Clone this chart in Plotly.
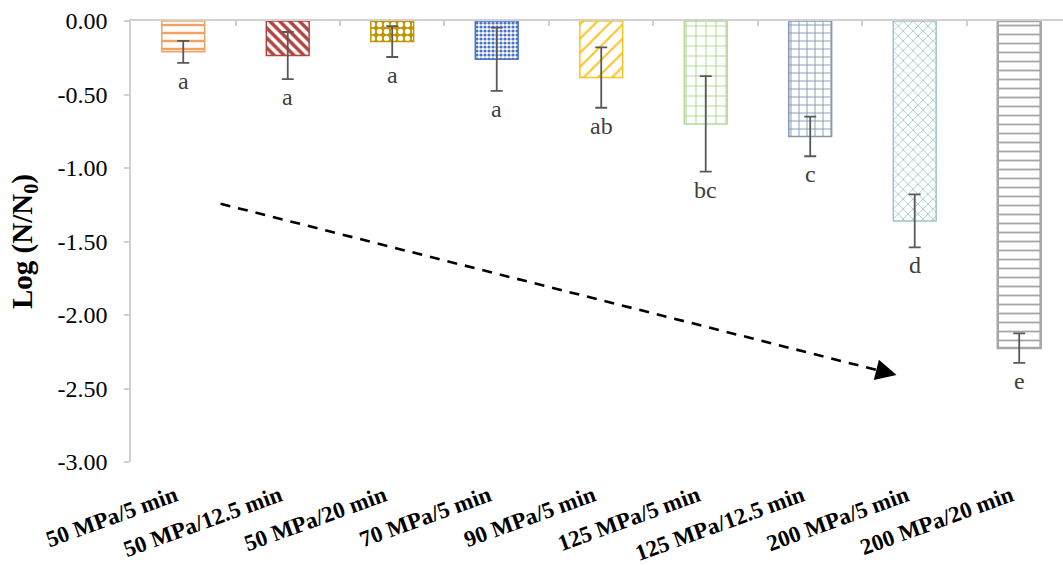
import plotly.graph_objects as go

# Treatment conditions (pressure / holding time)
categories = [
    "50 MPa/5 min", "50 MPa/12.5 min", "50 MPa/20 min", "70 MPa/5 min",
    "90 MPa/5 min", "125 MPa/5 min", "125 MPa/12.5 min", "200 MPa/5 min",
    "200 MPa/20 min",
]
# Mean log reduction and standard deviation
log_reduction = [-0.21, -0.235, -0.14, -0.26, -0.385, -0.70, -0.785, -1.36, -2.225]
std_dev = [0.075, 0.16, 0.105, 0.215, 0.205, 0.325, 0.135, 0.18, 0.10]
# Significance groups
groups = ["a", "a", "a", "a", "ab", "bc", "c", "d", "e"]

y_tick_vals = [0.0, -0.5, -1.0, -1.5, -2.0, -2.5, -3.0]
y_tick_text = ["0.00", "-0.50", "-1.00", "-1.50", "-2.00", "-2.50", "-3.00"]

# Per-bar fill styles
bar_colors = ["#F6A05F", "#B0433F", "#C19400", "#4A74C4", "#FFC21A",
              "#B3D99B", "#8498B4", "#9CC5C8", "#A6A6A6"]
pattern_shapes = ["-", "\\", ".", ".", "/", "+", "+", "x", "-"]
pattern_fg = ["#F6A05F", "#B0433F", "white", "#4A74C4", "#FFC21A",
              "#B3D99B", "#8498B4", "#9CC5C8", "#A6A6A6"]
pattern_bg = ["white", "white", "#C19400", "white", "white",
              "white", "white", "white", "white"]
pattern_size = [8, 7, 7, 4, 10, 10, 8, 7, 9]
pattern_solidity = [0.3, 0.5, 0.45, 0.5, 0.2, 0.2, 0.22, 0.22, 0.2]
outline_width = [1.5, 1.5, 1.5, 1.5, 1.5, 1.5, 1.5, 1.5, 2.5]

# Trend arrow (data coordinates)
arrow_start = (0.357, -1.243)
arrow_line_end = (6.68, -2.382)
arrow_tip = (6.826, -2.408)

font_family = "Liberation Serif, Times New Roman, serif"
axis_grey = "#D0D0D0"
x_positions = list(range(len(categories)))

fig = go.Figure()
fig.add_trace(go.Bar(
    x=x_positions,
    y=log_reduction,
    width=0.41,
    marker=dict(
        color="white",
        line=dict(color=bar_colors, width=outline_width),
        pattern=dict(shape=pattern_shapes, fgcolor=pattern_fg, bgcolor=pattern_bg,
                     size=pattern_size, solidity=pattern_solidity, fillmode="replace"),
    ),
    error_y=dict(type="data", array=std_dev, visible=True,
                 color="#595959", thickness=1.8, width=6),
    showlegend=False,
    hoverinfo="skip",
))
# Empty trace that carries the top (zero-line) axis
fig.add_trace(go.Scatter(x=[], y=[], xaxis="x2", showlegend=False, hoverinfo="skip"))

# Significance letters under each error bar
for xi, v, s, g in zip(x_positions, log_reduction, std_dev, groups):
    fig.add_annotation(x=xi, y=v - s, text=g, showarrow=False, yanchor="top",
                       yshift=-3, font=dict(family=font_family, size=24, color="#404040"))

# Dashed trend line with arrow head
fig.add_shape(type="line", xref="x", yref="y",
              x0=arrow_start[0], y0=arrow_start[1], x1=arrow_line_end[0], y1=arrow_line_end[1],
              line=dict(color="black", width=2.6, dash="10px,8px"))
fig.add_annotation(x=arrow_tip[0], y=arrow_tip[1], ax=arrow_line_end[0], ay=arrow_line_end[1],
                   xref="x", yref="y", axref="x", ayref="y", text="", showarrow=True,
                   arrowhead=2, arrowsize=1.6, arrowwidth=2.6, arrowcolor="black", standoff=0)

x_range = [-0.5, 8.419]
fig.update_layout(
    width=1063, height=565,
    margin=dict(l=131, r=0, t=21, b=103, autoexpand=False),
    paper_bgcolor="white", plot_bgcolor="white",
    font=dict(family=font_family, size=24, color="black"),
    xaxis=dict(
        range=x_range, tickvals=x_positions, ticktext=categories, tickangle=-20,
        tickfont=dict(family=font_family, size=23, color="black", weight="bold"),
        showline=False, showgrid=False, zeroline=False, ticks="",
        ticklabelstandoff=15, ticklabelshift=-8, automargin=False,
    ),
    xaxis2=dict(
        overlaying="x", side="top", matches="x", range=x_range,
        tickvals=[i - 0.5 for i in range(len(categories) + 1)],
        showticklabels=False, ticks="inside", ticklen=5, tickwidth=1.5, tickcolor=axis_grey,
        showline=True, linecolor=axis_grey, linewidth=1.5,
        showgrid=False, zeroline=False, automargin=False,
    ),
    yaxis=dict(
        range=[-3.0, 0.0], tickvals=y_tick_vals, ticktext=y_tick_text,
        ticks="outside", ticklen=5, tickwidth=1.5, tickcolor=axis_grey,
        showline=True, linecolor=axis_grey, linewidth=1.5,
        showgrid=False, zeroline=False, ticklabelstandoff=12, automargin=False,
        tickfont=dict(family=font_family, size=24, color="black"),
        title=dict(text="<b>Log (N/N<sub>0</sub>)</b>", standoff=16,
                   font=dict(family=font_family, size=29, color="black")),
    ),
)

fig.write_html("out.html")
